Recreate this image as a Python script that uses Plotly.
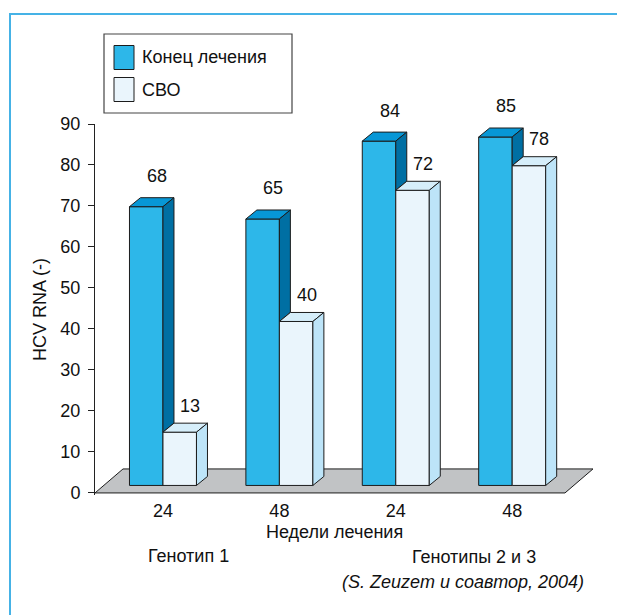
import plotly.graph_objects as go

# ---- data -------------------------------------------------------------
weeks = ["24", "48", "24", "48"]                  # недели лечения
end_of_treatment = [68, 65, 84, 85]               # Конец лечения
svr = [13, 40, 72, 78]                            # СВО
series_names = ["Конец лечения", "СВО"]
genotype_labels = ["Генотип 1", "Генотипы 2 и 3"]
y_ticks = list(range(0, 100, 10))

# ---- figure geometry (pixels) -----------------------------------------
W, H = 617, 615
ML, MR, MT, MB = 95, 12, 124, 120
PLOT_W, PLOT_H = W - ML - MR, H - MT - MB
PX_PER_CAT = 116.4
X0 = -0.584
X1 = X0 + PLOT_W / PX_PER_CAT
Y0, Y1 = -0.5, 90
PX_PER_Y = PLOT_H / (Y1 - Y0)

FONT = "Liberation Sans, Arial, Helvetica, sans-serif"
EDGE = "#1c1c1c"
TXT = "#111"

# pseudo-3D styling, converted to axis units
bar_w = 33.5 / PX_PER_CAT
lift = 7.5 / PX_PER_Y            # front faces stand a little inside the floor
dx, dy = 11 / PX_PER_CAT, 9 / PX_PER_Y
floor_dx, floor_dy = 28 / PX_PER_CAT, 24 / PX_PER_Y
floor_right = (565 - 163) / PX_PER_CAT

colors = {
    "front": ["#2db7e9", "#eaf5fc"],
    "top": ["#0797d6", "#d6eefa"],
    "side": ["#006fa3", "#bde4f8"],
}


def px_x(p):
    return (p - ML) / PLOT_W


def px_y(p):
    return (H - MB - p) / PLOT_H


def data_to_paper_x(x):
    return (x - X0) / (X1 - X0)


def data_to_paper_y(y):
    return (y - Y0) / (Y1 - Y0)


pos = list(range(len(weeks)))
blue_x = [p - bar_w / 2 for p in pos]
white_x = [p + bar_w / 2 for p in pos]


def polys(pts_list):
    xs, ys = [], []
    for pts in pts_list:
        for x, y in pts:
            xs.append(x)
            ys.append(y)
        xs.append(pts[0][0])
        ys.append(pts[0][1])
        xs.append(None)
        ys.append(None)
    return xs, ys


def top_face(xc, v):
    xl, xr, t = xc - bar_w / 2, xc + bar_w / 2, lift + v
    return [(xl, t), (xr, t), (xr + dx, t + dy), (xl + dx, t + dy)]


def side_face(xc, v, bottom=None):
    xr, t = xc + bar_w / 2, lift + v
    b = lift if bottom is None else bottom
    return [(xr, b), (xr, t), (xr + dx, t + dy), (xr + dx, b + dy)]


def face_trace(pts_list, color):
    xs, ys = polys(pts_list)
    return go.Scatter(x=xs, y=ys, mode="lines", fill="toself", fillcolor=color,
                      line=dict(color=EDGE, width=1),
                      hoverinfo="skip", showlegend=False)


fig = go.Figure()

# front faces
for name, xs, vals, col in [
    (series_names[0], blue_x, end_of_treatment, colors["front"][0]),
    (series_names[1], white_x, svr, colors["front"][1]),
]:
    fig.add_trace(go.Bar(
        x=xs, y=vals, base=lift, width=bar_w, name=name,
        marker=dict(color=col, line=dict(color=EDGE, width=1)),
        hoverinfo="skip", showlegend=False,
    ))

# blue tops and the part of the blue sides left visible above the white bars
fig.add_trace(face_trace([top_face(x, v) for x, v in zip(blue_x, end_of_treatment)],
                         colors["top"][0]))
fig.add_trace(face_trace([side_face(x, v, lift + min(w, v))
                          for x, v, w in zip(blue_x, end_of_treatment, svr)],
                         colors["side"][0]))
# white tops and sides
fig.add_trace(face_trace([top_face(x, v) for x, v in zip(white_x, svr)],
                         colors["top"][1]))
fig.add_trace(face_trace([side_face(x, v) for x, v in zip(white_x, svr)],
                         colors["side"][1]))

annotations = []

# value labels above the bars (paper-referenced so the tallest stay visible)
for xs, vals, off in [(blue_x, end_of_treatment, 30.5), (white_x, svr, 26.5)]:
    for x, v in zip(xs, vals):
        annotations.append(dict(
            xref="paper", yref="paper",
            x=data_to_paper_x(x + 10.5 / PX_PER_CAT),
            y=data_to_paper_y(lift + v + off / PX_PER_Y),
            text=str(v), showarrow=False,
            xanchor="center", yanchor="middle",
            font=dict(family=FONT, size=18, color=TXT)))

shapes = [
    # floor
    dict(type="path", xref="x", yref="y", layer="below",
         path=(f"M{X0},0 L{floor_right},0 L{floor_right + floor_dx},{floor_dy} "
               f"L{X0 + floor_dx},{floor_dy} Z"),
         fillcolor="#c1c3c5", line=dict(color=EDGE, width=1)),
    # outer frame: top and left edges as one open path
    dict(type="path", xref="paper", yref="paper", layer="above",
         path=(f"M{px_x(W + 5)},{px_y(14)} L{px_x(10)},{px_y(14)} "
               f"L{px_x(10)},{px_y(H + 5)}"),
         fillcolor="rgba(0,0,0,0)", line=dict(color="#45b2e6", width=2)),
    # legend box
    dict(type="rect", xref="paper", yref="paper",
         x0=px_x(104), x1=px_x(292), y0=px_y(113), y1=px_y(34),
         line=dict(color="#444", width=1.2), fillcolor="white"),
]

for i, (name, col) in enumerate(zip(series_names, colors["front"])):
    cy = 57.5 + i * 32
    shapes.append(dict(type="rect", xref="paper", yref="paper",
                       x0=px_x(114), x1=px_x(134), y0=px_y(cy + 12), y1=px_y(cy - 12),
                       fillcolor=col, line=dict(color=EDGE, width=1)))
    annotations.append(dict(xref="paper", yref="paper", x=px_x(140), y=px_y(cy),
                            text=name, showarrow=False, xanchor="left",
                            yanchor="middle",
                            font=dict(family=FONT, size=18, color=TXT)))

for text, cx, cy in [
    ("Недели лечения", 334, 532),
    (genotype_labels[0], 188, 556),
    (genotype_labels[1], 474, 557),
    ("<i>(S. Zeuzem и соавтор, 2004)</i>", 463, 582),
]:
    annotations.append(dict(xref="paper", yref="paper", x=px_x(cx), y=px_y(cy),
                            text=text, showarrow=False, xanchor="center",
                            yanchor="middle",
                            font=dict(family=FONT, size=18, color=TXT)))
annotations.append(dict(xref="paper", yref="paper", x=px_x(40), y=px_y(310),
                        text="HCV RNA (-)", textangle=-90, showarrow=False,
                        xanchor="center", yanchor="middle",
                        font=dict(family=FONT, size=18, color=TXT)))

fig.update_layout(
    width=W, height=H,
    margin=dict(l=ML, r=MR, t=MT, b=MB, pad=0),
    paper_bgcolor="white", plot_bgcolor="white",
    barmode="overlay", showlegend=False,
    shapes=shapes, annotations=annotations,
    xaxis=dict(range=[X0, X1], tickvals=pos, ticktext=weeks, showgrid=False,
               zeroline=False, showline=False, ticks="",
               tickfont=dict(family=FONT, size=18, color=TXT),
               ticklabelstandoff=3, fixedrange=True),
    yaxis=dict(range=[Y0, Y1], tickvals=y_ticks, showgrid=False,
               zeroline=False, showline=True, linecolor="#222", linewidth=1,
               ticks="outside", ticklen=6, tickcolor="#222", tickwidth=1,
               tickfont=dict(family=FONT, size=18, color=TXT),
               ticklabelstandoff=4, fixedrange=True),
)

fig.write_html("out.html", config={"displayModeBar": False})
